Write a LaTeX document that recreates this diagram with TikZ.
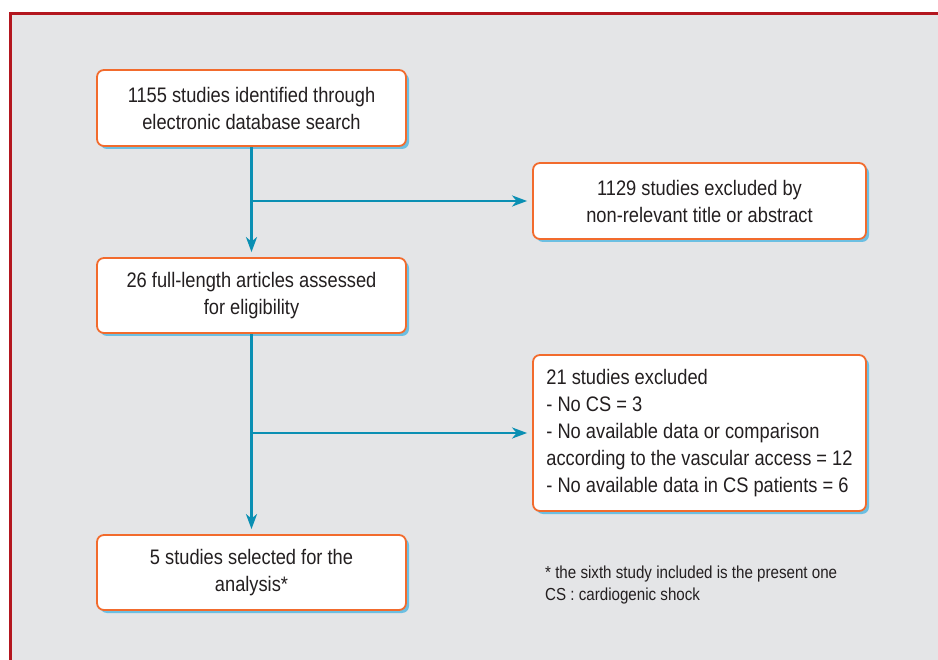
\documentclass[tikz,border=0pt]{standalone}
\usepackage{fontspec}
\setmainfont{Liberation Sans}[FakeStretch=0.87]
\usetikzlibrary{arrows.meta,shadows}
\definecolor{bgray}{HTML}{E4E5E7}
\definecolor{framered}{HTML}{B3161F}
\definecolor{boxorange}{HTML}{F26B2D}
\definecolor{arrowblue}{HTML}{0A8FB3}
\definecolor{shadowblue}{HTML}{6CBFE2}
\definecolor{textgray}{HTML}{231F20}
\tikzset{
  flowbox/.style={draw=boxorange, line width=1.8pt, fill=white, rounded corners=7pt,
    text=textgray, font=\fontsize{21}{27}\selectfont, align=center,
    minimum width=309pt, minimum height=76pt, inner sep=0pt,
    drop shadow={shadow xshift=3pt, shadow yshift=-3pt, fill=shadowblue, opacity=1}},
  widebox/.style={flowbox, minimum width=333pt},
  flowarrow/.style={draw=arrowblue, line width=2.8pt,
    -{Stealth[length=15pt,width=11pt,inset=4.5pt]}, shorten >=5pt},
  note/.style={text=textgray, font=\fontsize{17.4}{22}\selectfont, align=left, anchor=west, inner sep=0pt}
}
\begin{document}
\begin{tikzpicture}[x=1pt,y=-1pt]
\useasboundingbox (0,0) rectangle (938,660);
\fill[bgray] (10.5,13.5) rectangle (938,660);
\draw[framered, line width=3pt] (10.5,660) -- (10.5,13.5) -- (938,13.5);

\node[flowbox] (b1) at (251.5,108) {1155 studies identified through\\electronic database search};
\node[widebox] (b2) at (699.5,201) {1129 studies excluded by\\non-relevant title or abstract};
\node[flowbox, minimum height=75pt] (b3) at (251.5,295.5) {26 full-length articles assessed\\for eligibility};
\node[widebox, minimum height=156pt, align=left] (b4) at (699.5,433)
  {21 studies excluded\\- No CS = 3\\- No available data or comparison\\according to the vascular access = 12\\- No available data in CS patients = 6};
\node[flowbox, minimum height=75pt] (b5) at (251.5,572.5) {5 studies selected for the\\analysis*};

\node[note] (n1) at (545,585) {* the sixth study included is the present one\\CS : cardiogenic shock};

\coordinate (j1) at (b1.south |- b2.west);
\coordinate (j2) at (b3.south |- b4.west);
\draw[flowarrow] (b1.south) -- (b3.north);
\draw[flowarrow] (j1) -- (b2.west);
\draw[flowarrow] (b3.south) -- (b5.north);
\draw[flowarrow] (j2) -- (b4.west);
\end{tikzpicture}
\end{document}
